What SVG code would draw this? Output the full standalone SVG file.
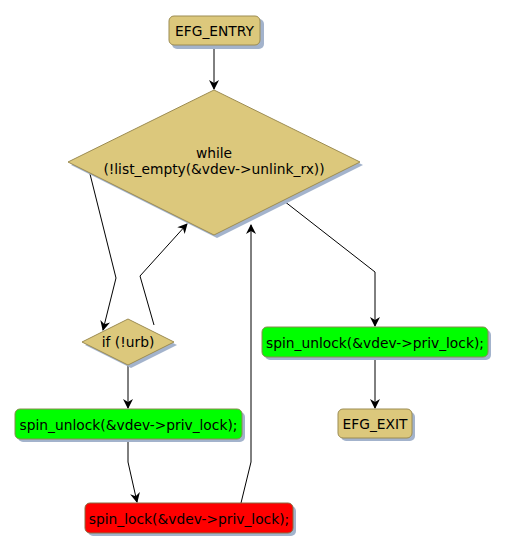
<svg xmlns="http://www.w3.org/2000/svg" width="506" height="552" viewBox="0 0 506 552">
<style>
.sh{fill:#a3b3cc}
.tan{fill:#dcc87c;stroke:#9c8c52;stroke-width:1}
.grn{fill:#00ff00;stroke:#8a8a50;stroke-width:1}
.red{fill:#ff0000;stroke:#8a6a40;stroke-width:1}
text{font-family:"DejaVu Sans",sans-serif;font-size:13.8px;fill:#000;text-anchor:middle}
.c{fill:none;stroke:#000;stroke-width:1}
</style>
<defs>
<marker id="ah" markerWidth="10" markerHeight="10" refX="9" refY="5" orient="auto" markerUnits="userSpaceOnUse" viewBox="0 0 10 10">
<path d="M0,0 L10,5 L0,10 L3,5 Z" fill="#000"/>
</marker>
</defs>
<rect width="506" height="552" fill="#fff"/>
<g id="connectors">
<path class="c" d="M214,46 L214,89" marker-end="url(#ah)"/>
<path class="c" d="M90,174 L116,278 L103,330" marker-end="url(#ah)"/>
<path class="c" d="M154,325 L140,276 L187,224" marker-end="url(#ah)"/>
<path class="c" d="M241,503 L251,462 L251,225" marker-end="url(#ah)"/>
<path class="c" d="M284,201 L375,272 L375,326" marker-end="url(#ah)"/>
<path class="c" d="M375,357 L375,408" marker-end="url(#ah)"/>
<path class="c" d="M128,365 L128,408" marker-end="url(#ah)"/>
<path class="c" d="M128,439 L128,462 L137,502" marker-end="url(#ah)"/>
</g>
<g id="efg_entry">
<rect class="sh" x="172" y="19" width="92" height="30" rx="5"/>
<rect class="tan" x="169" y="16" width="91" height="29" rx="5"/>
<text x="214.5" y="36">EFG_ENTRY</text>
</g>
<g id="while">
<polygon class="sh" points="217,93 363,165 217,238 71,165"/>
<polygon class="tan" points="214,90 360,162 214,235 68,162"/>
<text x="214" y="158">while</text>
<text x="214" y="174">(!list_empty(&amp;vdev-&gt;unlink_rx))</text>
</g>
<g id="if_urb">
<polygon class="sh" points="131,322 177,345 131,368 85,345"/>
<polygon class="tan" points="128,319 174,342 128,365 82,342"/>
<text x="128" y="347">if (!urb)</text>
</g>
<g id="spin_unlock_left">
<rect class="sh" x="18" y="412" width="227" height="30" rx="5"/>
<rect class="grn" x="15" y="409" width="227" height="30" rx="5"/>
<text x="128.5" y="430">spin_unlock(&amp;vdev-&gt;priv_lock);</text>
</g>
<g id="spin_lock">
<rect class="sh" x="88" y="506" width="208" height="30" rx="5"/>
<rect class="red" x="85" y="503" width="208" height="30" rx="5"/>
<text x="189" y="524">spin_lock(&amp;vdev-&gt;priv_lock);</text>
</g>
<g id="spin_unlock_right">
<rect class="sh" x="265" y="330" width="226" height="30" rx="5"/>
<rect class="grn" x="262" y="327" width="226" height="30" rx="5"/>
<text x="375" y="348">spin_unlock(&amp;vdev-&gt;priv_lock);</text>
</g>
<g id="efg_exit">
<rect class="sh" x="341" y="412" width="74" height="29" rx="5"/>
<rect class="tan" x="338" y="409" width="74" height="29" rx="5"/>
<text x="375" y="429">EFG_EXIT</text>
</g>
</svg>
